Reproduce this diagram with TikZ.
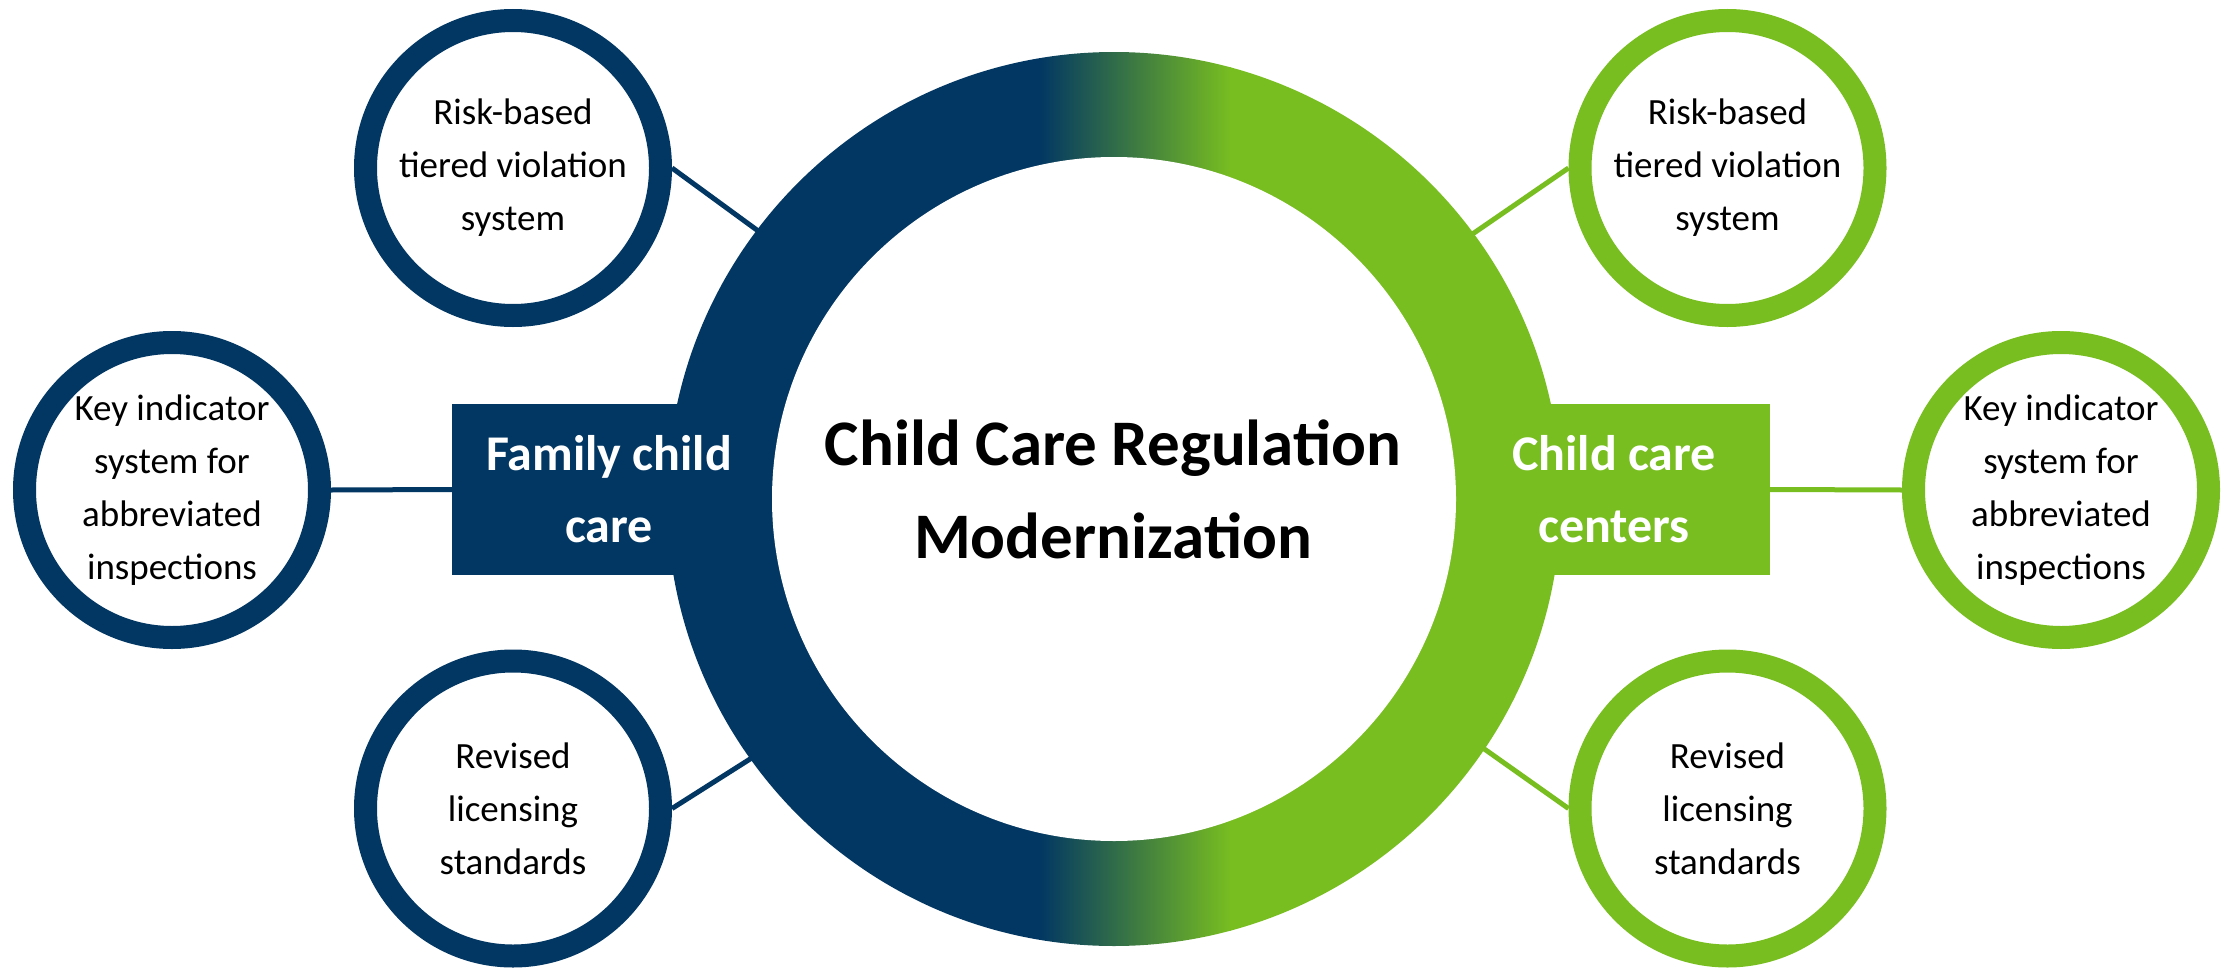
\documentclass[tikz,border=0pt]{standalone}
\usepackage{fontspec}
\setmainfont{Carlito}
\definecolor{navy}{RGB}{2,55,99}
\definecolor{lgreen}{RGB}{120,190,32}
\tikzset{
  bub/.style={circle, draw, line width=23pt, fill=white, minimum size=295pt, inner sep=0pt,
    align=center, text=black, font=\fontsize{37}{53}\selectfont},
  catbox/.style={rectangle, inner sep=0pt, text=white, align=center,
    font=\fontsize{50}{72}\selectfont\bfseries, minimum height=171pt},
  conn/.style={line width=5pt},
}
\begin{document}
\begin{tikzpicture}[x=1pt,y=-1pt]
\useasboundingbox (0,0) rectangle (2236,969);
\coordinate (c) at (1114,499);
% ring
\begin{scope}
  \clip (c) circle (447pt);
  \fill[navy] (600,0) rectangle (1040,1000);
  \shade[left color=navy, right color=lgreen] (1039,0) rectangle (1231,1000);
  \fill[lgreen] (1230,0) rectangle (1600,1000);
\end{scope}
\node[circle, fill=white, minimum size=684pt, inner sep=0pt] (inner) at (c) {};
% category boxes
\node[catbox, fill=navy, minimum width=314pt] (fam) at (609,489.5) {Family child\\care};
\node[catbox, fill=lgreen, minimum width=312pt] (ctr) at (1614,489.5) {Child care\\centers};
% title
\node[align=center, font=\fontsize{65}{93}\selectfont\bfseries] (title) at (1113,489) {Child Care Regulation\\Modernization};
% bubbles
\node[bub, draw=navy] (tl) at (513,168) {Risk-based\\tiered violation\\system};
\node[bub, draw=navy] (ml) at (172,490) {Key indicator\\system for\\abbreviated\\inspections};
\node[bub, draw=navy] (bl) at (513,808.5) {Revised\\licensing\\standards};
\node[bub, draw=lgreen] (tr) at (1727.5,168) {Risk-based\\tiered violation\\system};
\node[bub, draw=lgreen] (mr) at (2061,490) {Key indicator\\system for\\abbreviated\\inspections};
\node[bub, draw=lgreen] (br) at (1727.5,808.5) {Revised\\licensing\\standards};
% connector ends on ring
\path (c) ++(143:440pt) coordinate (etl);
\path (c) ++(215.6:440pt) coordinate (ebl);
\path (c) ++(36.5:440pt) coordinate (etr);
\path (c) ++(-34:440pt) coordinate (ebr);
% connectors
\draw[conn, navy] (tl.east) -- (etl);
\draw[conn, navy] (bl.east) -- (ebl);
\draw[conn, navy] (ml.east) -- (fam.west);
\draw[conn, lgreen] (tr.west) -- (etr);
\draw[conn, lgreen] (br.west) -- (ebr);
\draw[conn, lgreen] (ctr.east) -- (mr.west);
\end{tikzpicture}
\end{document}
